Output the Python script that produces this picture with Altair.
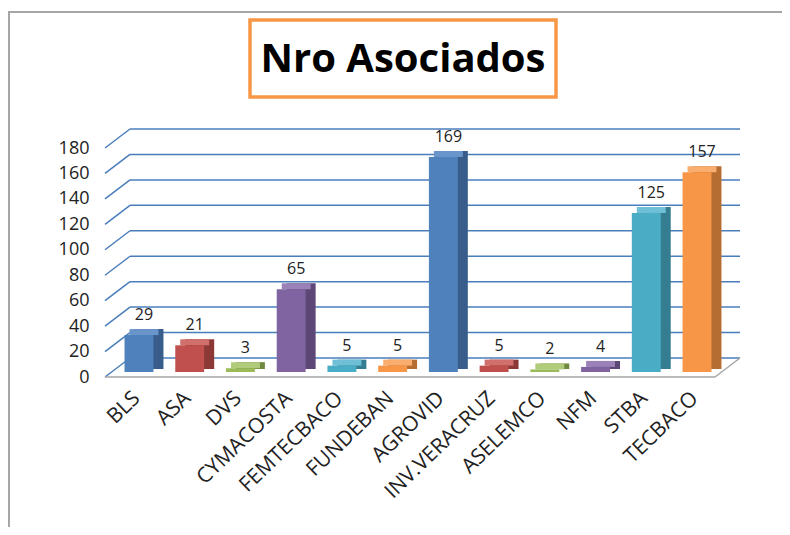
import altair as alt
import pandas as pd

categories = ["BLS", "ASA", "DVS", "CYMACOSTA", "FEMTECBACO", "FUNDEBAN",
              "AGROVID", "INV.VERACRUZ", "ASELEMCO", "NFM", "STBA", "TECBACO"]
values = [29, 21, 3, 65, 5, 5, 169, 5, 2, 4, 125, 157]
y_ticks = [0, 20, 40, 60, 80, 100, 120, 140, 160, 180]

front_cols = ["#4F81BD", "#C0504D", "#9BBB59", "#8064A2", "#4BACC6", "#F79646"]
side_cols = ["#385D8A", "#8C3836", "#71893F", "#5C4776", "#357D91", "#B66D31"]
top_cols = ["#6A95CB", "#D06F6C", "#B0CB7A", "#9A82B8", "#6FC0D6", "#F9AE6F"]

df = pd.DataFrame({
    "cat": categories,
    "v": values,
    "z": [0] * len(values),
    "front": [front_cols[i % 6] for i in range(len(values))],
    "side": [side_cols[i % 6] for i in range(len(values))],
    "top": [top_cols[i % 6] for i in range(len(values))],
})
grid = pd.DataFrame({"v": y_ticks})

W, H = 626, 229
DX, DY = 25, -19   # depth of the 3D wall
FONT = "Open Sans"

xs = alt.X("cat:N", sort=categories,
           scale=alt.Scale(paddingInner=0.43, paddingOuter=0.385),
           axis=alt.Axis(title=None, labelAngle=-44, labelAlign="right",
                         labelBaseline="middle", labelOffset=-2, labelPadding=18,
                         domain=False, ticks=False, labelFont=FONT,
                         labelFontSize=21, labelColor="#222", labelLimit=300))
ys = alt.Y("v:Q", scale=alt.Scale(domain=[0, 180], nice=False),
           axis=alt.Axis(title=None, values=y_ticks, domain=False, ticks=False,
                         grid=False, labelPadding=16, labelFont=FONT,
                         labelFontSize=18, labelColor="#222"))

grid_col = "#4A7EBB"
back_grid = alt.Chart(grid).mark_rule(color=grid_col, strokeWidth=1.5, yOffset=DY).encode(
    y=ys, x=alt.value(DX), x2=alt.value(W + 9))
slant_grid = alt.Chart(grid).mark_rule(color=grid_col, strokeWidth=1.5, y2Offset=DY).encode(
    y=ys, y2=alt.Y2("v:Q"), x=alt.value(0), x2=alt.value(DX))

floor_df = pd.DataFrame({"v": [0]})
floor_front = alt.Chart(floor_df).mark_rule(color="#A6A6A6", strokeWidth=1.5).encode(
    y=ys, x=alt.value(0), x2=alt.value(W - 16))
floor_right = alt.Chart(floor_df).mark_rule(color="#A6A6A6", strokeWidth=1.5, y2Offset=DY).encode(
    y=ys, y2=alt.Y2("v:Q"), x=alt.value(W - 16), x2=alt.value(W - 16 + DX))

BO = -5  # bars sit slightly behind the front floor edge
side = alt.Chart(df).mark_bar(xOffset=10, yOffset=BO - 6, y2Offset=BO - 3).encode(
    x=xs, y=ys, y2=alt.Y2("z:Q"), color=alt.Color("side:N", scale=None))
top = alt.Chart(df).mark_bar(xOffset=5, yOffset=BO - 6, y2Offset=BO).encode(
    x=xs, y=ys, y2=alt.Y2("v:Q"), color=alt.Color("top:N", scale=None))
front = alt.Chart(df).mark_bar(yOffset=BO, y2Offset=BO).encode(
    x=xs, y=ys, y2=alt.Y2("z:Q"), color=alt.Color("front:N", scale=None))
labels = alt.Chart(df).mark_text(yOffset=BO - 15, dx=5, baseline="alphabetic",
                                 font=FONT, fontSize=16, color="#222").encode(
    x=xs, y=ys, text="v:Q")

one = pd.DataFrame({"a": [0]})
outer = alt.Chart(one).mark_rect(fill=None, stroke="#A6A6A6", strokeWidth=2).encode(
    x=alt.value(-96), x2=alt.value(800), y=alt.value(-136), y2=alt.value(420))
title_box = alt.Chart(one).mark_rect(fill="white", stroke="#F79646", strokeWidth=3.5).encode(
    x=alt.value(145), x2=alt.value(451), y=alt.value(-128), y2=alt.value(-51))
title_txt = alt.Chart(one).mark_text(text="Nro Asociados", font=FONT, fontSize=40,
                                     fontWeight="bold", color="black",
                                     baseline="middle", align="center").encode(
    x=alt.value(298), y=alt.value(-88))

chart = alt.layer(outer, back_grid, slant_grid, floor_front, floor_right,
                  side, top, front, labels, title_box, title_txt).properties(
    width=W, height=H,
    background="white",
    autosize=alt.AutoSizeParams(type="none"),
    padding={"left": 97, "top": 140, "right": 51, "bottom": 150},
).configure_view(stroke="transparent", strokeWidth=0)

chart.save("out.html", embed_options={"renderer": "svg", "actions": False})
